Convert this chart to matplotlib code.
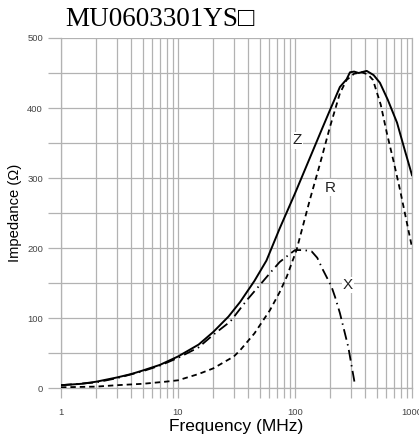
import matplotlib
matplotlib.use("Agg")
import matplotlib.pyplot as plt

plt.rcParams["font.family"] = ["Liberation Sans", "DejaVu Sans"]

# impedance curves
z_freq = [1, 1.5, 2, 3, 4, 5, 7, 10, 15, 20, 27, 34, 45, 57, 74, 100, 143,
          170, 199, 242, 276, 295, 320, 350, 410, 470, 532, 620, 745, 860, 1000]
z_val = [4, 6, 9, 15, 20, 25, 33, 45, 62, 80, 102, 123, 153, 182, 228, 278,
         340, 370, 397, 430, 441, 451, 452, 450, 453, 447, 436, 412, 379, 342, 304]

r_freq = [1, 2, 3, 5, 7.8, 10, 15, 20, 30, 34, 45, 61, 74, 85, 103, 134, 164,
          199, 242, 276, 320, 372, 420, 464, 540, 610, 700, 790, 1000]
r_val = [1, 2, 4, 6, 9, 11, 20, 28, 45, 54, 78, 111, 137, 159, 197, 269, 321,
         373, 421, 440, 449, 451, 448, 440, 405, 364, 322, 283, 201]

x_freq = [1, 2, 3, 5, 7, 10, 15, 20, 28, 39, 50, 61, 74, 88, 100, 120, 139,
          155, 173, 205, 220, 242, 285, 326]
x_val = [4, 8, 14, 24, 32, 43, 58, 76, 95, 126, 147, 164, 180, 190, 197, 197,
         195, 186, 169, 145, 130, 107, 59, 4]

curve_labels = ["Z", "R", "X"]
label_pos = [(104, 354), (199, 286), (284, 147)]

y_major = [0, 100, 200, 300, 400, 500]
y_minor = [50, 150, 250, 350, 450]
x_major = [1, 10, 100, 1000]
x_tick_labels = ["1", "10", "100", "1000"]

fig = plt.figure(figsize=(4.19, 4.41), dpi=100)
ax = fig.add_axes([61 / 419, 1 - 388 / 441, (412 - 61) / 419, (388 - 38) / 441])

grid_color = "#b2b2b2"
ax.plot(z_freq, z_val, color="black", lw=1.4, zorder=3)
ax.plot(r_freq, r_val, color="black", lw=1.3, dashes=(3, 2.2), zorder=3)
ax.plot(x_freq, x_val, color="black", lw=1.3, dashes=(6, 2.5, 0.8, 2.5), zorder=3)

for text, (fx, fy) in zip(curve_labels, label_pos):
    ax.text(fx, fy, text, fontsize=11, ha="center", va="center", color="#222222",
            bbox=dict(facecolor="white", edgecolor="none", pad=1), zorder=4)

ax.set_xscale("log")
ax.set_xlim(1, 1000)
ax.set_ylim(0, 500)
ax.set_xticks(x_major)
ax.set_xticklabels(x_tick_labels)
ax.set_yticks(y_major)
ax.set_yticks(y_minor, minor=True)

ax.grid(True, which="both", color=grid_color, lw=0.9)
for side in ax.spines.values():
    side.set_color(grid_color)
    side.set_linewidth(0.9)
ax.spines["top"].set_visible(False)

ax.tick_params(which="both", color=grid_color, width=0.9,
               labelsize=6.8, labelcolor="#444444")
ax.tick_params(axis="y", which="both", length=9.4, pad=3.6)
ax.tick_params(axis="x", which="both", length=7.2, pad=7.5)

ax.set_xlabel("Frequency (MHz)", fontsize=12.5, labelpad=1)
ax.set_ylabel("Impedance (Ω)", fontsize=10.6, labelpad=4)

fig.text(65 / 419, 1 - 19 / 441, "MU0603301YS□", fontsize=19.5, va="center",
         family=["Liberation Serif", "DejaVu Serif"])

fig.savefig("out.png", dpi=100)
